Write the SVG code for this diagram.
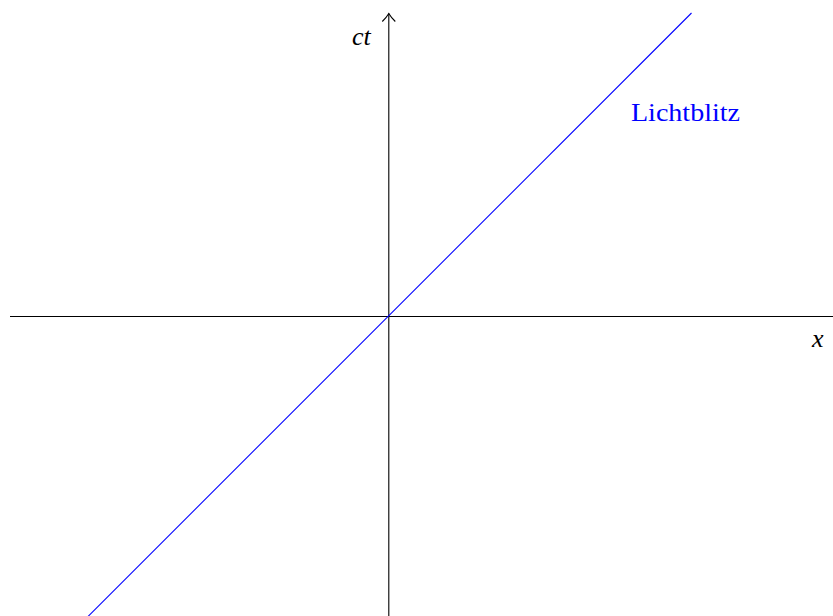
<svg xmlns="http://www.w3.org/2000/svg" width="833" height="616" viewBox="0 0 833 616">
<style>
.axis{stroke:#000;stroke-width:1.1;fill:none}
.light{stroke:#0000ff;stroke-width:1.1;fill:none}
.lbl{font-size:26px}
.it{font-style:italic}
</style>
<rect width="833" height="616" fill="#fff"/>
<g id="connectors">
<line class="axis" x1="10" y1="316.5" x2="833" y2="316.5"/>
<line class="axis" x1="388.8" y1="616" x2="388.8" y2="13.5"/>
<path class="axis" d="M382.3,21.5 Q386.8,17 388.8,13.5 Q390.8,17 395.3,21.5"/>
<line class="light" x1="88" y1="616.5" x2="691.5" y2="13"/>
</g>
<g id="label-ct"><text class="lbl it" font-family="Liberation Serif, DejaVu Serif, serif" x="352" y="45">ct</text></g>
<g id="label-x"><text class="lbl it" font-family="Liberation Serif, DejaVu Serif, serif" x="812" y="347">x</text></g>
<g id="label-lichtblitz"><text class="lbl" font-family="Liberation Serif, DejaVu Serif, serif" x="631" y="121" fill="#0000ff" textLength="109" lengthAdjust="spacingAndGlyphs">Lichtblitz</text></g>
</svg>
